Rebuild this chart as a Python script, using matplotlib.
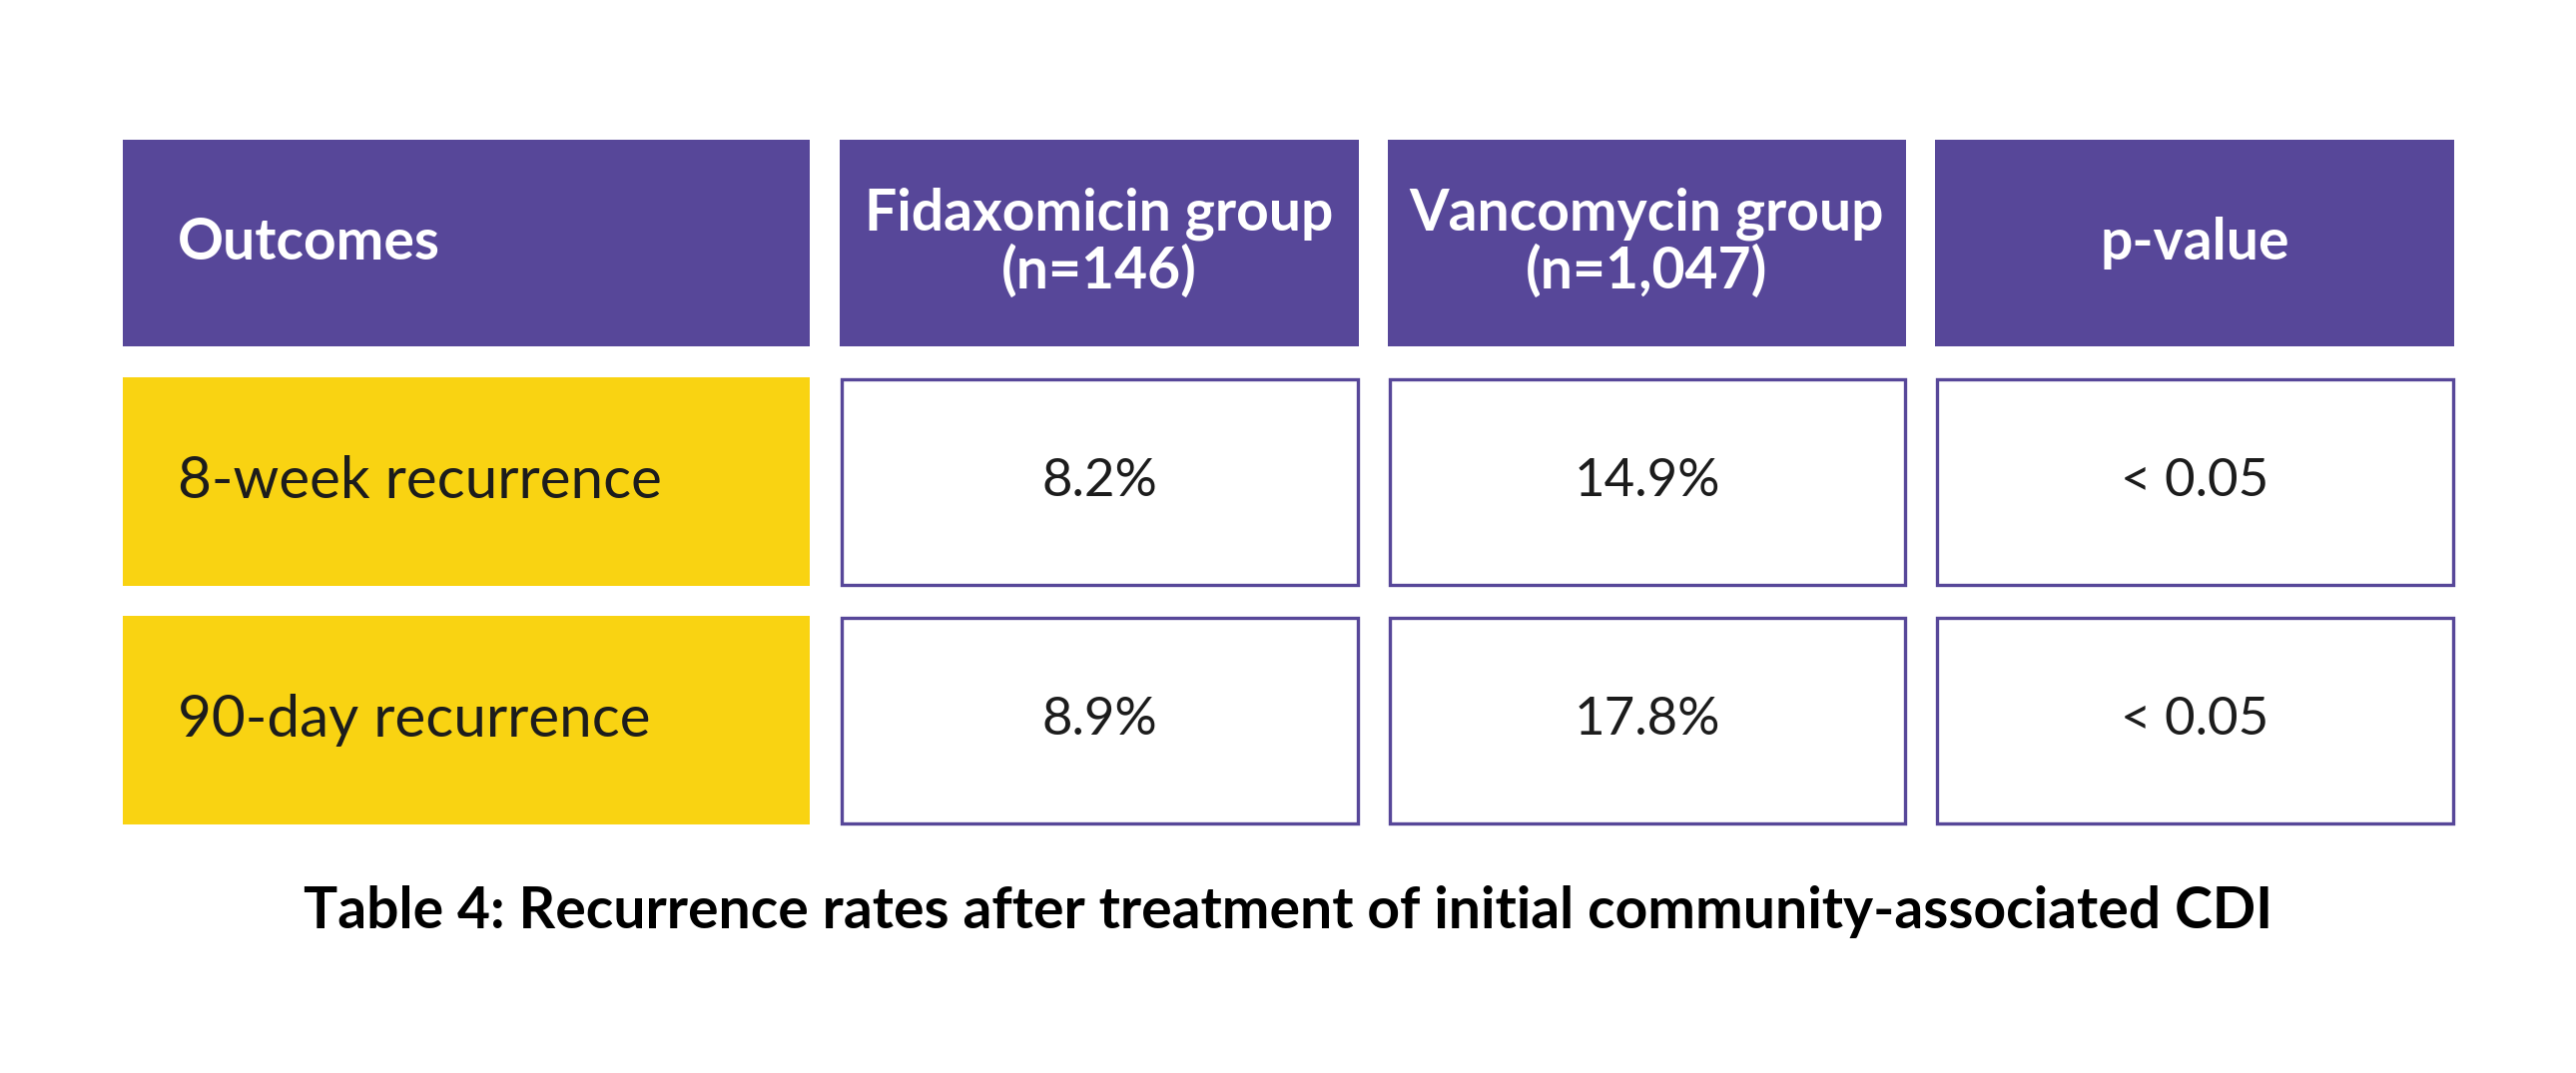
import matplotlib.pyplot as plt
from matplotlib.patches import Rectangle

plt.rcParams['font.family'] = ['Lato', 'DejaVu Sans']

# table content
headers = ["Outcomes", "Fidaxomicin group\n(n=146)", "Vancomycin group\n(n=1,047)", "p-value"]
outcomes = ["8-week recurrence", "90-day recurrence"]
fidaxomicin = ["8.2%", "8.9%"]
vancomycin = ["14.9%", "17.8%"]
p_values = ["< 0.05", "< 0.05"]
caption = "Table 4: Recurrence rates after treatment of initial community-associated CDI"

purple = "#574799"
yellow = "#f9d312"
text_dark = "#1c1c1c"

# layout in pixels
col_x = [(123, 811), (841, 1361), (1390, 1909), (1938, 2458)]
row_y = [(140, 347), (378, 587), (617, 826)]

fig = plt.figure(figsize=(25.8, 10.75), dpi=100)
ax = fig.add_axes([0, 0, 1, 1])
ax.set_xlim(0, 2580)
ax.set_ylim(1075, 0)
ax.axis("off")

# header row
y0, y1 = row_y[0]
for i, (x0, x1) in enumerate(col_x):
    ax.add_patch(Rectangle((x0, y0), x1 - x0, y1 - y0, facecolor=purple, edgecolor="none"))
    if i == 0:
        ax.text(178, (y0 + y1) / 2, headers[i], color="white", fontsize=41,
                fontweight="bold", ha="left", va="center")
    else:
        ax.text((x0 + x1) / 2, (y0 + y1) / 2, headers[i], color="white", fontsize=41,
                fontweight="bold", ha="center", va="center", linespacing=1.08)

# body rows
for r in range(len(outcomes)):
    y0, y1 = row_y[r + 1]
    cells = [outcomes[r], fidaxomicin[r], vancomycin[r], p_values[r]]
    for i, (x0, x1) in enumerate(col_x):
        if i == 0:
            ax.add_patch(Rectangle((x0, y0), x1 - x0, y1 - y0, facecolor=yellow, edgecolor="none"))
            ax.text(178, (y0 + y1) / 2, cells[i], color=text_dark, fontsize=42,
                    fontweight="normal", ha="left", va="center")
        else:
            ax.add_patch(Rectangle((x0 + 1.5, y0 + 1.5), x1 - x0 - 3, y1 - y0 - 3,
                                   facecolor="white", edgecolor=purple, linewidth=2.4))
            ax.text((x0 + x1) / 2, (y0 + y1) / 2, cells[i], color=text_dark, fontsize=38,
                    fontweight="normal", ha="center", va="center")

ax.text(1290, 913, caption, color="black", fontsize=41, fontweight="bold",
        ha="center", va="center")

fig.savefig("out.png", dpi=100)
